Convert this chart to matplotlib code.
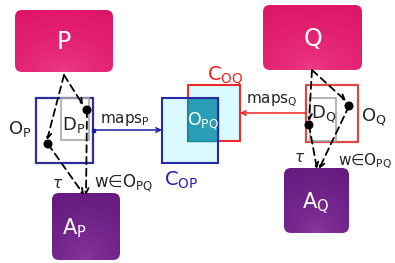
import numpy as np
import matplotlib.pyplot as plt
from matplotlib.colors import to_rgb
from matplotlib.patches import FancyBboxPatch, Rectangle, Circle

plt.rcParams['mathtext.fontset'] = 'dejavusans'
plt.rcParams['font.family'] = ['DejaVu Sans']

# node labels
source_labels = ['P', 'Q']
answer_labels = [r'A$_\mathregular{P}$', r'A$_\mathregular{Q}$']
ontology_labels = [r'O$_\mathregular{P}$', r'O$_\mathregular{Q}$']
dom_labels = [r'D$_\mathregular{P}$', r'D$_\mathregular{Q}$']
map_labels = [r'maps$_\mathregular{P}$', r'maps$_\mathregular{Q}$']
common_labels = [r'C$_\mathregular{OP}$', r'C$_\mathregular{OQ}$']
shared_label = r'O$_\mathregular{PQ}$'
edge_label = r'w∈O$_\mathregular{PQ}$'
tau = r'$\tau$'

W, H = 395, 263
fig = plt.figure(figsize=(W / 100, H / 100), dpi=100)
ax = fig.add_axes([0, 0, 1, 1])
ax.set_xlim(0, W)
ax.set_ylim(H, 0)
ax.axis('off')

TXT = '#262626'


def grad_box(x0, y0, x1, y1, dark, light, pad=7, z=2):
    box = FancyBboxPatch((x0 + pad, y0 + pad), x1 - x0 - 2 * pad, y1 - y0 - 2 * pad,
                         boxstyle=f'round,pad={pad}', fc='none', ec='none', zorder=z)
    ax.add_patch(box)
    # soft gradient, a bit lighter towards the lower centre
    yy, xx = np.mgrid[0:1:60j, 0:1:60j]
    d = np.clip(np.sqrt(((xx - 0.5) * 1.1) ** 2 + (yy - 1.0) ** 2) / 1.1, 0, 1)
    c0, c1 = np.array(to_rgb(light)), np.array(to_rgb(dark))
    img = c0 + (c1 - c0) * d[..., None] ** 0.5
    im = ax.imshow(img, extent=(x0, x1, y1, y0), zorder=z, interpolation='bilinear')
    im.set_clip_path(box)


def dashed_arrow(p0, p1):
    ax.annotate('', xy=p1, xytext=p0,
                arrowprops=dict(arrowstyle='->', ls=(0, (4, 2.5)), lw=1.3, color='black',
                                shrinkA=0, shrinkB=0, mutation_scale=9), zorder=6)


def dot(p):
    ax.add_patch(Circle(p, 3.8, color='black', zorder=7))


# source boxes
grad_box(15, 10, 113, 72, '#DE1569', '#F0438A')
grad_box(263, 5, 362, 70, '#DE1569', '#F0438A')
ax.text(64, 42, source_labels[0], color='white', fontsize=17, ha='center', va='center', zorder=5)
ax.text(313, 39, source_labels[1], color='white', fontsize=17, ha='center', va='center', zorder=5)

# answer boxes
grad_box(52, 193, 120, 260, '#661A80', '#8E3EA4')
grad_box(284, 168, 349, 233, '#661A80', '#8E3EA4')
ax.text(74, 228, answer_labels[0], color='white', fontsize=15, ha='center', va='center', zorder=5)
ax.text(316, 203, answer_labels[1], color='white', fontsize=15, ha='center', va='center', zorder=5)

# ontologies and their domain boxes
ax.add_patch(Rectangle((36, 98), 57, 65, fc='white', ec='#2E2E9A', lw=1.6, zorder=3))
ax.add_patch(Rectangle((61, 98), 28, 42, fc='none', ec='#A8A8A8', lw=1.2, zorder=3))
ax.add_patch(Rectangle((306, 85), 52, 57, fc='white', ec='#D84848', lw=1.6, zorder=3))
ax.add_patch(Rectangle((310, 98), 26, 43, fc='none', ec='#A8A8A8', lw=1.2, zorder=3))
ax.text(74, 125, dom_labels[0], fontsize=13, ha='center', va='center', color=TXT, zorder=5)
ax.text(324, 114, dom_labels[1], fontsize=13, ha='center', va='center', color=TXT, zorder=5)
ax.text(20, 129, ontology_labels[0], fontsize=13, ha='center', va='center', color=TXT)
ax.text(374, 117, ontology_labels[1], fontsize=13, ha='center', va='center', color=TXT)

# common ontologies
ax.add_patch(Rectangle((162, 98), 56, 65, fc='#D9FAFE', ec='none', zorder=2))
ax.add_patch(Rectangle((188, 85), 52, 56, fc='#D9FAFE', ec='#EE2A2A', lw=1.5, zorder=2.5))
ax.add_patch(Rectangle((188, 98), 30, 43, fc='#2A9EB6', ec='#1E8AA2', lw=1, zorder=3))
ax.add_patch(Rectangle((162, 98), 56, 65, fc='none', ec='#2A2AA6', lw=1.5, zorder=3.5))
ax.text(203, 121, shared_label, color='white', fontsize=12.5, ha='center', va='center', zorder=5)
ax.text(181, 180, common_labels[0], color='#1F1FB0', fontsize=14, ha='center', va='center')
ax.text(225, 76, common_labels[1], color='#F01E1E', fontsize=14, ha='center', va='center')

# mappings
ax.annotate('', xy=(162, 130), xytext=(93, 130),
            arrowprops=dict(arrowstyle='->', lw=1.1, color='#1A1AA0', shrinkA=0, shrinkB=0,
                            mutation_scale=8), zorder=6)
ax.add_patch(Rectangle((91.5, 128.5), 3, 3, color='#1A1AA0', zorder=7))
ax.text(125, 120, map_labels[0], fontsize=11, ha='center', va='center', color=TXT)
ax.annotate('', xy=(240, 113), xytext=(306, 113),
            arrowprops=dict(arrowstyle='->', lw=1.1, color='#F02020', shrinkA=0, shrinkB=0,
                            mutation_scale=8), zorder=6)
ax.text(272, 101, map_labels[1], fontsize=11, ha='center', va='center', color=TXT)

# query paths (left)
dashed_arrow((64, 75), (83, 105))
dashed_arrow((64, 75), (47, 140))
dot((87, 110))
dot((48, 144))
dashed_arrow((48, 144), (84, 195))
dashed_arrow((87, 110), (86, 195))
ax.text(58, 183, tau, fontsize=11, ha='center', va='center', color=TXT)
ax.text(94, 183, edge_label, fontsize=12, ha='left', va='center', color=TXT)

# query paths (right)
dashed_arrow((312, 70), (346, 101))
dashed_arrow((312, 70), (309, 121))
dot((349, 106))
dot((309, 125))
dashed_arrow((349, 106), (319, 169))
dashed_arrow((309, 125), (317, 169))
ax.text(300, 157, tau, fontsize=11, ha='center', va='center', color=TXT)
ax.text(338, 161, edge_label, fontsize=11, ha='left', va='center', color=TXT)

fig.savefig('out.png', dpi=100)
